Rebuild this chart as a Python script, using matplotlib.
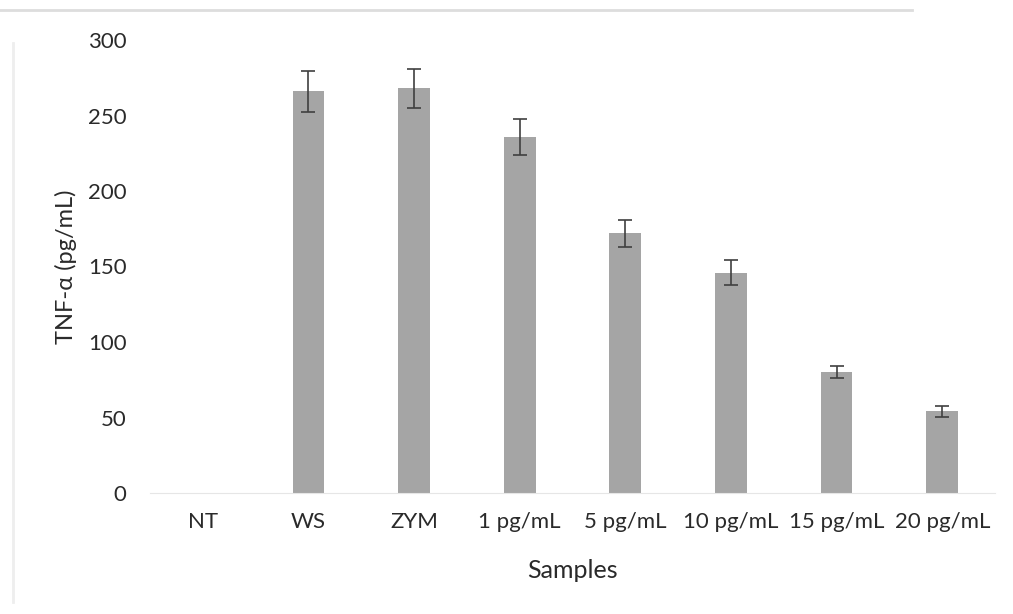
import numpy as np
import matplotlib.pyplot as plt

samples = ['NT', 'WS', 'ZYM', '1 pg/mL', '5 pg/mL', '10 pg/mL', '15 pg/mL', '20 pg/mL']
tnf_alpha = [0, 266, 268, 236, 172, 146, 80, 54]
tnf_err = [0, 13.5, 13, 12, 9, 8, 4, 3.5]

plt.rcParams['font.family'] = ['Lato', 'DejaVu Sans']

fig = plt.figure(figsize=(10.13, 6.14), dpi=100)
ax = fig.add_axes([150 / 1013, 121 / 614, 845 / 1013, 453 / 614])

x = np.arange(len(samples))
vals = np.array(tnf_alpha, dtype=float)
errs = np.array(tnf_err, dtype=float)
ax.bar(x, vals, width=0.3, color='#a5a5a5')

# no error bar for the untreated control (no signal)
has_err = errs > 0
ax.errorbar(x[has_err], vals[has_err], yerr=errs[has_err], fmt='none',
            ecolor='#404040', capsize=5, elinewidth=1.2, capthick=1.2)

ax.set_xlim(-0.5, len(samples) - 0.5)
ax.set_ylim(0, 300)
ax.set_yticks(np.arange(0, 301, 50))
ax.set_xticks(x)
ax.set_xticklabels(samples)
ax.tick_params(axis='both', length=0, labelsize=16, colors='#2a2a2a')
ax.tick_params(axis='y', pad=17)
ax.tick_params(axis='x', pad=14)

for side in ['top', 'right', 'left']:
    ax.spines[side].set_visible(False)
ax.spines['bottom'].set_color('#e6e6e6')

ax.set_ylabel('TNF-α (pg/mL)', fontsize=17, color='#2a2a2a', labelpad=8)
ax.set_xlabel('Samples', fontsize=18, color='#2a2a2a', labelpad=19)

# faint frame lines around the figure
fig.add_artist(plt.Line2D([0.0, 0.9], [0.984, 0.984], color='#dddddd', lw=2))
fig.add_artist(plt.Line2D([0.013, 0.013], [0.02, 0.93], color='#eeeeee', lw=2))

fig.savefig('out.png', dpi=100)
